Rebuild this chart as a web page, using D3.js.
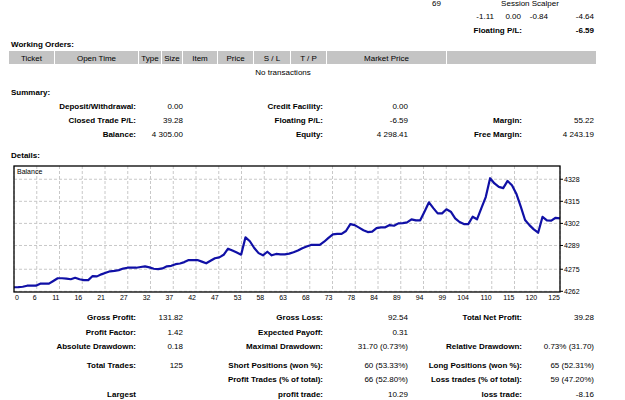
<!DOCTYPE html>
<html>
<head>
<meta charset="utf-8">
<script src="https://cdn.jsdelivr.net/npm/d3@7"></script>
<style>
    body { margin: 0; background: #fff; }
    svg text { font-family: "Liberation Sans", Arial, sans-serif; font-size: 8px; fill: #000; }
    svg text.b { font-weight: bold; }
    svg text.ax { font-size: 7px; }
</style>
</head>
<body>
<svg id="page" width="625" height="400"></svg>
<script>
/** balance after each closed trade, index 0 = start */
const balance = [
    4264.4, 4264.5, 4264.7, 4265.3, 4265.3, 4265.3, 4266.5, 4266.5, 4266.5, 4268.1,
    4269.7, 4269.7, 4269.5, 4269.1, 4270.0, 4269.1, 4268.6, 4268.6, 4271.0, 4270.8,
    4272.0, 4272.9, 4273.8, 4274.0, 4274.5, 4275.4, 4275.9, 4275.9, 4275.9, 4276.3,
    4276.7, 4276.1, 4275.3, 4275.1, 4275.5, 4276.7, 4277.0, 4278.0, 4278.4, 4279.2,
    4280.4, 4280.4, 4280.4, 4279.5, 4278.5, 4280.0, 4281.5, 4282.0, 4283.5, 4287.1,
    4286.0, 4284.8, 4283.6, 4293.8, 4291.5, 4287.5, 4284.5, 4283.2, 4285.3, 4283.2,
    4284.0, 4283.8, 4283.8, 4284.2, 4285.0, 4286.0, 4287.4, 4288.4, 4289.3, 4289.3,
    4289.3, 4291.2, 4293.5, 4295.5, 4295.8, 4295.8, 4297.5, 4301.6, 4301.0, 4299.5,
    4298.0, 4296.9, 4297.2, 4299.2, 4299.7, 4299.7, 4301.0, 4300.6, 4302.0, 4302.2,
    4302.6, 4304.4, 4303.8, 4303.8, 4309.0, 4314.4, 4311.0, 4307.9, 4307.9, 4310.3,
    4308.9, 4305.0, 4302.8, 4301.6, 4301.6, 4305.9, 4304.4, 4311.0, 4317.5, 4328.6,
    4325.5, 4323.5, 4322.8, 4327.0, 4324.5, 4319.5, 4312.0, 4304.0, 4301.0, 4298.5,
    4296.5, 4305.9, 4303.8, 4303.6, 4305.3, 4305.0
];
const xTickLabels = [0, 6, 11, 16, 21, 27, 32, 37, 42, 47, 53, 58, 63, 68, 73, 78, 84, 89, 94, 99, 104, 110, 115, 120, 125];
const yTickLabels = [4262, 4275, 4289, 4302, 4315, 4328];

// table header of "Working Orders"
const orderCols = ["Ticket", "Open Time", "Type", "Size", "Item", "Price", "S / L", "T / P", "Market Price", ""];
const orderColEdges = [9, 55, 139, 162, 183, 218, 254, 291, 327, 447, 597];

// summary / report rows: [label, value] pairs for three columns
const summaryRows = [
    [["Deposit/Withdrawal:", "0.00"], ["Credit Facility:", "0.00"], null],
    [["Closed Trade P/L:", "39.28"], ["Floating P/L:", "-6.59"], ["Margin:", "55.22"]],
    [["Balance:", "4 305.00"], ["Equity:", "4 298.41"], ["Free Margin:", "4 243.19"]]
];
const reportRows = [
    [["Gross Profit:", "131.82"], ["Gross Loss:", "92.54"], ["Total Net Profit:", "39.28"]],
    [["Profit Factor:", "1.42"], ["Expected Payoff:", "0.31"], null],
    [["Absolute Drawdown:", "0.18"], ["Maximal Drawdown:", "31.70 (0.73%)"], ["Relative Drawdown:", "0.73% (31.70)"]],
    [["Total Trades:", "125"], ["Short Positions (won %):", "60 (53.33%)"], ["Long Positions (won %):", "65 (52.31%)"]],
    [null, ["Profit Trades (% of total):", "66 (52.80%)"], ["Loss trades (% of total):", "59 (47.20%)"]],
    [["Largest", ""], ["profit trade:", "10.29"], ["loss trade:", "-8.16"]]
];
const openPosValues = ["-1.11", "0.00", "-0.84", "-4.64"];

const svg = d3.select("#page");
// right edges of label / value columns
const colX = [[136, 183], [323, 408], [522, 594]];

const text = (x, y, s, cls, anchor) => svg.append("text")
    .attr("x", x).attr("y", y).attr("dy", "0.35em")
    .attr("class", cls || null)
    .attr("text-anchor", anchor || "start")
    .text(s);

const drawRows = (rows, ys) => {
    rows.forEach((row, i) => {
        row.forEach((cell, c) => {
            if (!cell) return;
            text(colX[c][0], ys[i], cell[0], "b", "end");
            text(colX[c][1], ys[i], cell[1], null, "end");
        });
    });
};

// --- top: open position line (cut at the top edge in the screenshot)
text(441, 3, "69", null, "end");
text(530, 3, "Session Scalper", null, "middle");
[494, 521, 548, 594].forEach((x, i) => text(x, 16, openPosValues[i], null, "end"));
text(522, 30, "Floating P/L:", "b", "end");
text(594, 30, "-6.59", "b", "end");

// --- working orders
text(11, 44, "Working Orders:", "b");
orderCols.forEach((c, i) => {
    const x0 = orderColEdges[i], x1 = orderColEdges[i + 1] - 1;
    svg.append("rect").attr("x", x0).attr("y", 51).attr("width", x1 - x0).attr("height", 13)
        .attr("fill", "#c4c4c4");
    if (c) text((x0 + x1) / 2, 58, c, null, "middle");
});
text(283, 72, "No transactions", null, "middle");

// --- summary
text(11, 92, "Summary:", "b");
drawRows(summaryRows, [106, 120, 134]);
text(11, 155, "Details:", "b");

// --- balance chart
const box = { left: 14, right: 560, top: 166, bottom: 292 };
const x = d3.scaleLinear().domain([0, balance.length - 1]).range([box.left, box.right]);
const y = d3.scaleLinear().domain([4261.6, 4335.8]).range([box.bottom, box.top]);
const xGrid = d3.scalePoint().domain(xTickLabels).range([box.left, box.right]);

const chart = svg.append("g");
chart.selectAll(".vg").data(xTickLabels).enter().append("line")
    .attr("x1", d => xGrid(d)).attr("x2", d => xGrid(d))
    .attr("y1", box.top).attr("y2", box.bottom)
    .attr("stroke", "#c8c8c8").attr("stroke-dasharray", "3,2");
chart.selectAll(".hg").data(yTickLabels).enter().append("line")
    .attr("x1", box.left).attr("x2", box.right)
    .attr("y1", d => y(d)).attr("y2", d => y(d))
    .attr("stroke", "#c8c8c8").attr("stroke-dasharray", "3,2");

chart.append("path")
    .datum(balance)
    .attr("d", d3.line().x((d, i) => x(i)).y(d => y(d)))
    .attr("fill", "none")
    .attr("stroke", "#1010a6")
    .attr("stroke-width", 2.2)
    .attr("stroke-linejoin", "round");

chart.append("rect")
    .attr("x", box.left).attr("y", box.top)
    .attr("width", box.right - box.left).attr("height", box.bottom - box.top)
    .attr("fill", "none").attr("stroke", "#000").attr("stroke-width", 1.3);

// x labels: right aligned to the grid line, first one left aligned
xTickLabels.forEach((d, i) => {
    text(i === 0 ? xGrid(d) + 1 : xGrid(d), 298, d, "ax", i === 0 ? "start" : "end");
});
// y labels with little tick marks
yTickLabels.forEach(d => {
    chart.append("line").attr("x1", box.right).attr("x2", box.right + 3)
        .attr("y1", y(d)).attr("y2", y(d)).attr("stroke", "#000");
    text(box.right + 4, y(d), d, "ax");
});
text(17, 172, "Balance", "ax");

// --- report
drawRows(reportRows, [317, 332, 346, 365, 379, 394]);
</script>
</body>
</html>
